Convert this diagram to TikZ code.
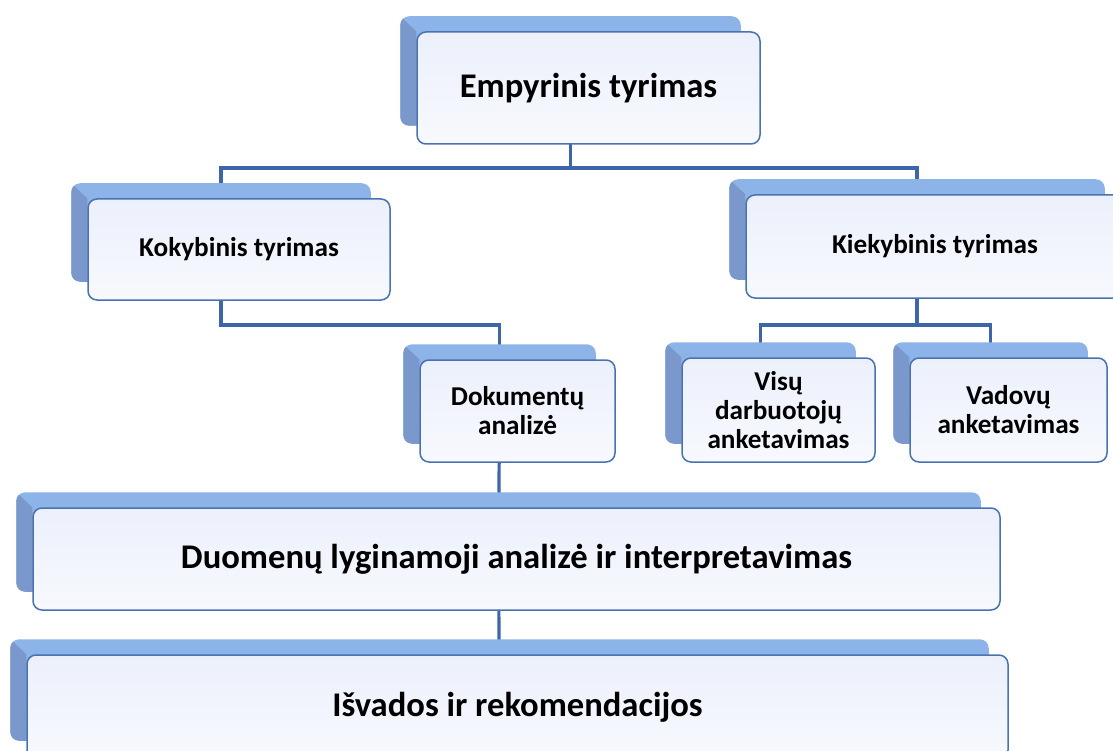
\documentclass[tikz,border=0pt]{standalone}
\usepackage{fontspec}
\setmainfont{Carlito}
\usetikzlibrary{calc}
\pgfdeclarelayer{lines}
\pgfdeclarelayer{shadows}
\pgfsetlayers{lines,shadows,main}
\definecolor{linec}{RGB}{60,102,168}
\definecolor{boxborder}{RGB}{72,114,178}
\definecolor{backtop}{RGB}{141,180,232}
\definecolor{backside}{RGB}{122,152,204}
\definecolor{fronttop}{RGB}{236,240,251}
\definecolor{frontbot}{RGB}{247,249,254}
\tikzset{
  box/.style={draw=boxborder, line width=1.5pt, rounded corners=9pt,
    top color=fronttop, bottom color=frontbot, align=center, inner sep=0pt,
    font=\bfseries\fontsize{27.2}{29}\selectfont},
  bigbox/.style={box, font=\bfseries\fontsize{34.6}{38}\selectfont},
  conn/.style={draw=linec, line width=3.2pt},
}
\newcommand\mkshadow[1]{%
  \begin{pgfonlayer}{shadows}
    \fill[backtop, rounded corners=9pt] ($(#1.north west)+(-16,-15)$) rectangle ($(#1.south east)+(-20,-19)$);
    \begin{scope}
      \clip[rounded corners=9pt] ($(#1.north west)+(-16,-15)$) rectangle ($(#1.south east)+(-20,-19)$);
      \fill[backside] ($(#1.north west)+(-16,-15)$) -- (#1.north west) -- ($(#1.south west)+(0,-19)$) -- ($(#1.south west)+(-16,-19)$) -- cycle;
    \end{scope}
  \end{pgfonlayer}}
\begin{document}
\begin{tikzpicture}[x=1pt,y=-1pt]
\useasboundingbox (0,0) rectangle (1113,751);
\node[bigbox, minimum width=343pt, minimum height=112pt] (emp) at (588.5,88) {Empyrinis tyrimas};
\node[box, minimum width=302pt, minimum height=101pt] (kok) at (239,249.5) {Kokybinis tyrimas};
\node[box, minimum width=378pt, minimum height=103pt] (kie) at (935,246.5) {Kiekybinis tyrimas};
\node[box, minimum width=195pt, minimum height=102pt] (dok) at (517.5,411) {Dokumentų\\analizė};
\node[box, minimum width=193pt, minimum height=104pt] (vis) at (778.5,410) {Visų\\darbuotojų\\anketavimas};
\node[box, minimum width=197pt, minimum height=104pt] (vad) at (1008.5,410) {Vadovų\\anketavimas};
\node[bigbox, minimum width=967pt, minimum height=102pt] (duo) at (516.5,559) {Duomenų lyginamoji analizė ir interpretavimas};
\node[bigbox, minimum width=981pt, minimum height=104pt] (isv) at (517.5,707) {Išvados ir rekomendacijos};
\foreach \n in {emp,kok,kie,dok,vis,vad,duo,isv}{\mkshadow{\n}}
\begin{pgfonlayer}{lines}
  \foreach \n in {emp,kok,kie,dok,vis,vad,duo,isv}{\coordinate (\n c) at ($(\n.center)+(-18,0)$);}
  \coordinate (busA) at (0,168);
  \coordinate (busB) at (0,325);
  \draw[conn] (empc) -- (empc |- busA);
  \draw[conn] (kokc) -- (kokc |- busA) -| (kiec);
  \draw[conn] (kokc) -- (kokc |- busB) -| (dokc);
  \draw[conn] (kiec) -- (kiec |- busB);
  \draw[conn] (visc) -- (visc |- busB) -| (vadc);
  \draw[conn] (dokc) -- (duoc);
  \draw[conn] (duoc) -- (isvc);
\end{pgfonlayer}
\end{tikzpicture}
\end{document}
